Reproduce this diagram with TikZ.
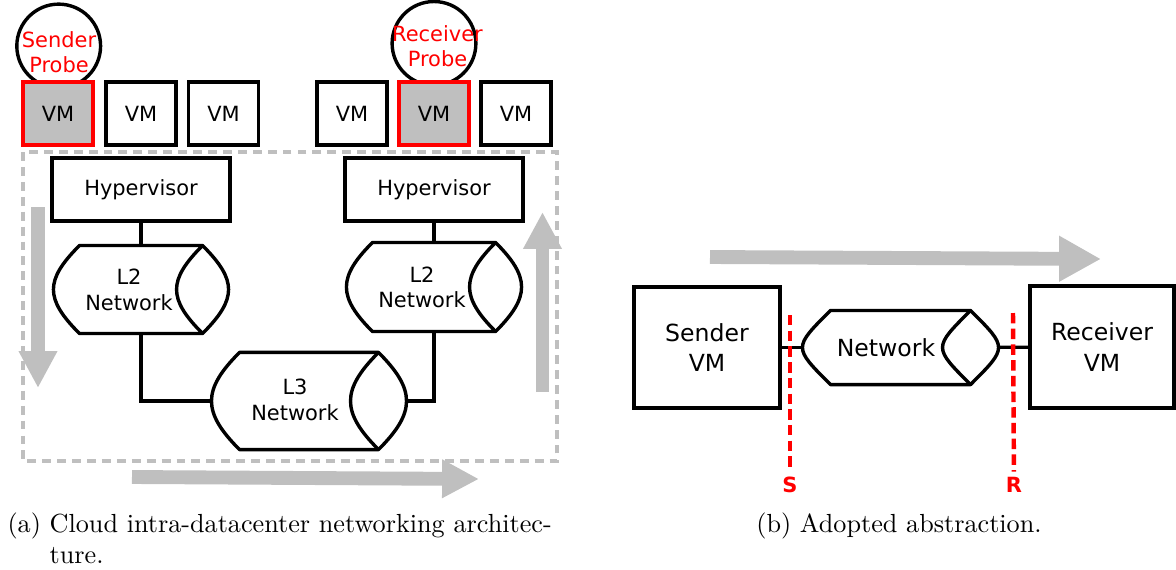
\documentclass[tikz,border=0pt]{standalone}
\usepackage{fontspec}
\setsansfont{DejaVu Sans}
\usetikzlibrary{arrows.meta,calc}

\definecolor{probered}{RGB}{255,0,0}
\definecolor{flowgray}{RGB}{191,191,191}
\tikzset{
  arch box/.style={draw=black,line width=1.3pt,inner sep=0pt,align=center,
    font=\sffamily\fontsize{8}{9.8}\selectfont},
  vm box/.style={arch box,fill=white,minimum width=26.7pt,minimum height=24.1pt},
  probe vm/.style={vm box,draw=probered,fill=flowgray},
  probe ring/.style={circle,draw=black,line width=1.3pt,minimum size=32pt,inner sep=0pt},
  probe text/.style={text=probered,inner sep=0pt,align=center,
    font=\sffamily\fontsize{8}{9.6}\selectfont},
  hyp box/.style={arch box,minimum width=68pt,minimum height=24.1pt},
  net body/.style 2 args={inner sep=0pt,minimum width=#1,minimum height=#2},
  net text/.style={inner sep=0pt,align=center,font=\sffamily\fontsize{8}{9.8}\selectfont},
  net line/.style={draw=black,line width=1.3pt,line join=round},
  link/.style={draw=black,line width=1.2pt},
  host box/.style={arch box,line width=1.45pt,font=\sffamily\fontsize{9}{11.5}\selectfont},
  flow/.style={draw=flowgray,line width=5.3pt,-{Triangle[width=13.8pt,length=14.1pt]}},
  wide flow/.style={flow,-{Triangle[width=16.4pt,length=16pt]}},
  cut/.style={draw=probered,line width=1.7pt,dash pattern=on 4pt off 2pt},
  cut label/.style={text=probered,inner sep=2pt,font=\sffamily\bfseries\fontsize{8}{9.6}\selectfont},
  frame/.style={draw=flowgray,line width=1.3pt,dash pattern=on 3.4pt off 2.3pt},
  caption/.style={inner sep=0pt,font=\fontsize{10}{12}\selectfont}
}

% outline of a network pipe around a named node: #1 node, #2 bulge of the ends
\newcommand{\netoutline}[2]{%
  \draw[net line,fill=white] ($(#1.north west)+(#2,0)$) coordinate (#1 nw)
    -- ($(#1.north east)+(-#2,0)$) coordinate (#1 ne)
    .. controls +({4/3*#2},{4/3*#2}) and +({4/3*#2},{-4/3*#2}) .. ($(#1.south east)+(-#2,0)$) coordinate (#1 se)
    -- ($(#1.south west)+(#2,0)$) coordinate (#1 sw)
    .. controls +({-4/3*#2},{-4/3*#2}) and +({-4/3*#2},{4/3*#2}) .. (#1 nw) -- cycle;
  \draw[net line] (#1 ne) .. controls +({-4/3*#2},{4/3*#2}) and +({-4/3*#2},{-4/3*#2}) .. (#1 se);
}

\begin{document}
\begin{tikzpicture}[x=0.382pt,y=-0.382pt]
  \useasboundingbox (0,0) rectangle (1176,569);

  % (a) datacenter architecture
  \node[probe ring] (sring) at (58.7,46) {};
  \node[probe ring] (rring) at (434,43.4) {};
  \node[probe vm] (vma1) at (58,113.5) {VM};
  \node[vm box] (vma2) at (141,113.5) {VM};
  \node[vm box] (vma3) at (223.5,113.5) {VM};
  \node[vm box] (vmb1) at (352,113.5) {VM};
  \node[probe vm] (vmb2) at (434,113.5) {VM};
  \node[vm box] (vmb3) at (516,113.5) {VM};
  \node[probe text] (stext) at (59,52.5) {Sender\\Probe};
  \node[probe text] (rtext) at (437.5,46.5) {Receiver\\Probe};

  \draw[frame] (23,152) rectangle (557,461);

  \node[hyp box] (hypa) at (141,189.5) {Hypervisor};
  \node[hyp box] (hypb) at (434,189.5) {Hypervisor};
  \node[net body={66.5pt}{33.2pt}] (l2a) at (141,289.5) {};
  \node[net body={66.5pt}{33.6pt}] (l2b) at (434,287) {};
  \node[net body={74.1pt}{36.7pt}] (l3) at (309,401) {};

  \draw[link] (hypa) -- (l2a);
  \draw[link] (hypb) -- (l2b);
  \draw[link] (l2a.south) |- (l3.west);
  \draw[link] (l3.east) -| (l2b.south);

  \netoutline{l2a}{26}
  \netoutline{l2b}{26}
  \netoutline{l3}{28}
  \node[net text] (l2atext) at (129,290) {L2\\Network};
  \node[net text] (l2btext) at (422,287.5) {L2\\Network};
  \node[net text] (l3text) at (295,400) {L3\\Network};

  \coordinate (downa) at (38,207);
  \coordinate (downb) at (38,388);
  \coordinate (upa) at (542.5,392);
  \coordinate (upb) at (542.5,212);
  \coordinate (alonga) at (132,477);
  \coordinate (alongb) at (479,479);
  \draw[flow] (downa) -- (downb);
  \draw[flow] (upa) -- (upb);
  \draw[flow] (alonga) -- (alongb);

  \node[caption,anchor=north west,align=left] (capa) at (7,512.4)
    {(a) Cloud intra-datacenter networking architec-\\\hphantom{(a)\ }ture.};

  % (b) abstraction
  \coordinate (flowa) at (710,257);
  \coordinate (flowb) at (1101,259);
  \draw[wide flow] (flowa) -- (flowb);

  \node[host box,minimum width=55.8pt,minimum height=46.2pt] (svm) at (707,347.5) {Sender\\VM};
  \node[host box,minimum width=55pt,minimum height=46.6pt] (rvm) at (1102,347) {Receiver\\VM};
  \node[net body={74.5pt}{27.9pt}] (net) at (900.5,347.5) {};
  \draw[link] (svm) -- (net);
  \draw[link] (net) -- (rvm);
  \netoutline{net}{28}
  \node[net text,font=\sffamily\fontsize{9}{11.5}\selectfont] (nettext) at (886,347.5) {Network};

  \node[cut label] (slabel) at (790,485) {S};
  \node[cut label] (rlabel) at (1014,485) {R};
  \coordinate (stop) at (790,315);
  \coordinate (rtop) at (1013,313);
  \draw[cut] (stop) -- (slabel);
  \draw[cut] (rtop) -- (rlabel);

  \node[caption,anchor=base] (capb) at (899,532) {(b) Adopted abstraction.};
\end{tikzpicture}
\end{document}
